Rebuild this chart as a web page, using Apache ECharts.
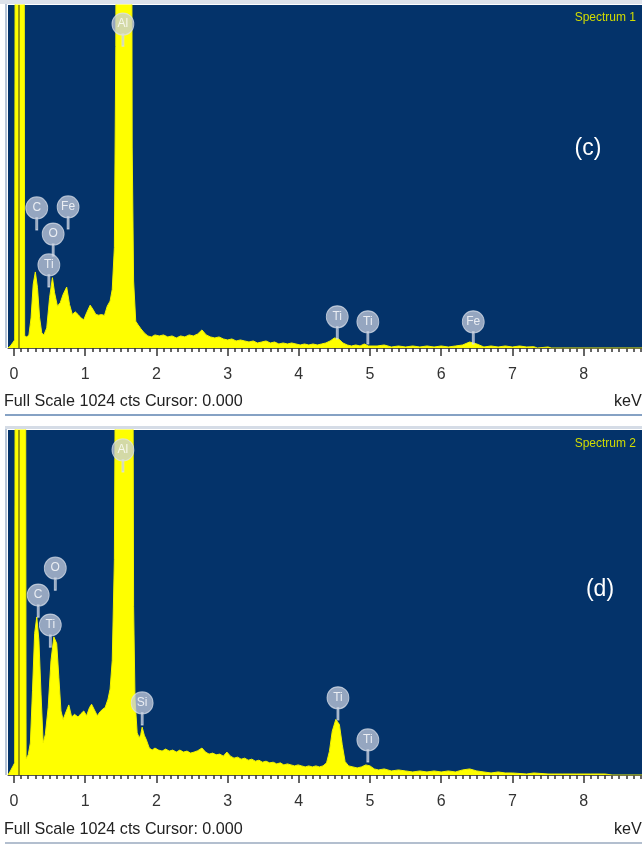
<!DOCTYPE html>
<html lang="en">
<head>
<meta charset="utf-8">
<title>EDS spectra</title>
<script src="https://cdn.jsdelivr.net/npm/echarts@6/dist/echarts.min.js"></script>
<style>
  html, body { margin: 0; padding: 0; background: #ffffff; }
  #main { width: 642px; height: 847px; }
</style>
</head>
<body>
<div id="main"></div>
<script>
  // spectrum data: [energy keV, counts] (full scale 1024 cts)
  var spectrum1 = [
    [-0.084, 0], [-0.05, 6], [-0.02, 15], [0.01, 24], [0.025, 3000], [0.135, 3000],
    [0.15, 36], [0.18, 33], [0.21, 39], [0.24, 90], [0.27, 190], [0.30, 227], [0.33, 180],
    [0.36, 90], [0.39, 45], [0.42, 39], [0.46, 60], [0.50, 150], [0.54, 210], [0.57, 165],
    [0.61, 125], [0.65, 135], [0.69, 160], [0.74, 182], [0.78, 130], [0.82, 100], [0.86, 108],
    [0.90, 100], [0.94, 90], [0.98, 84], [1.02, 105], [1.07, 128], [1.11, 115], [1.15, 100],
    [1.19, 98], [1.23, 100], [1.27, 97], [1.31, 125], [1.35, 140], [1.38, 175], [1.41, 300],
    [1.43, 900], [1.46, 4000], [1.55, 6000], [1.64, 3000], [1.66, 600], [1.68, 200], [1.71, 80],
    [1.74, 70], [1.78, 58], [1.83, 45], [1.88, 36], [1.93, 33], [1.98, 39], [2.04, 36],
    [2.10, 39], [2.16, 33], [2.22, 36], [2.28, 30], [2.34, 36], [2.40, 33], [2.46, 39],
    [2.52, 36], [2.58, 42], [2.64, 54], [2.70, 39], [2.76, 33], [2.82, 30], [2.88, 33],
    [2.94, 27], [3.00, 24], [3.06, 27], [3.12, 21], [3.18, 24], [3.24, 21], [3.30, 18],
    [3.36, 21], [3.42, 15], [3.48, 18], [3.54, 21], [3.60, 15], [3.66, 18], [3.72, 12],
    [3.78, 15], [3.84, 12], [3.90, 15], [3.96, 12], [4.02, 9], [4.08, 12], [4.14, 9],
    [4.20, 12], [4.26, 9], [4.32, 12], [4.38, 15], [4.44, 21], [4.50, 30], [4.56, 27],
    [4.62, 15], [4.68, 9], [4.74, 6], [4.80, 9], [4.86, 6], [4.92, 12], [4.98, 6],
    [5.1, 6], [5.2, 9], [5.3, 3], [5.4, 6], [5.5, 3], [5.6, 6], [5.7, 3], [5.8, 6], [5.9, 3],
    [6.0, 6], [6.1, 3], [6.2, 6], [6.3, 9], [6.4, 18], [6.5, 12], [6.6, 3], [6.7, 6], [6.8, 3],
    [6.9, 6], [7.0, 3], [7.1, 6], [7.2, 3], [7.3, 4], [7.35, 0], [7.5, 3], [7.55, 0], [8.83, 0]
  ];

  var spectrum2 = [
    [-0.084, 0], [-0.05, 12], [-0.02, 24], [0.01, 36], [0.025, 3000], [0.155, 3000],
    [0.17, 48], [0.20, 60], [0.23, 95], [0.26, 250], [0.29, 420], [0.32, 469], [0.35, 400],
    [0.38, 240], [0.41, 95], [0.44, 120], [0.48, 200], [0.52, 340], [0.56, 410], [0.60, 390],
    [0.63, 290], [0.66, 190], [0.69, 165], [0.73, 187], [0.77, 208], [0.81, 172], [0.85, 180],
    [0.90, 172], [0.94, 182], [0.98, 190], [1.02, 176], [1.06, 200], [1.09, 210], [1.13, 193],
    [1.17, 176], [1.21, 188], [1.25, 196], [1.28, 200], [1.32, 225], [1.35, 255], [1.38, 340],
    [1.41, 640], [1.43, 1500], [1.46, 5000], [1.55, 7000], [1.65, 3000], [1.68, 500], [1.70, 225],
    [1.73, 125], [1.76, 110], [1.78, 120], [1.80, 142], [1.83, 118], [1.86, 104], [1.90, 80],
    [1.94, 74], [1.98, 80], [2.03, 74], [2.08, 71], [2.13, 77], [2.18, 71], [2.23, 74],
    [2.28, 68], [2.33, 74], [2.38, 68], [2.43, 71], [2.48, 65], [2.53, 68], [2.58, 72],
    [2.64, 80], [2.69, 68], [2.74, 62], [2.79, 65], [2.84, 60], [2.89, 62], [2.94, 56],
    [2.99, 68], [3.04, 56], [3.09, 50], [3.14, 53], [3.19, 47], [3.24, 50], [3.29, 44],
    [3.34, 47], [3.39, 41], [3.44, 44], [3.49, 38], [3.54, 41], [3.59, 36], [3.64, 38],
    [3.69, 33], [3.74, 36], [3.79, 30], [3.84, 33], [3.89, 30], [3.94, 27], [3.99, 30],
    [4.04, 27], [4.09, 24], [4.14, 27], [4.19, 24], [4.24, 27], [4.29, 24], [4.34, 27],
    [4.39, 36], [4.43, 70], [4.47, 130], [4.52, 165], [4.57, 150], [4.61, 90], [4.65, 40],
    [4.70, 27], [4.76, 24], [4.82, 21], [4.88, 24], [4.94, 30], [5.00, 27], [5.06, 18],
    [5.12, 15], [5.2, 18], [5.3, 12], [5.4, 15], [5.5, 12], [5.6, 9], [5.7, 12], [5.8, 9],
    [5.9, 12], [6.0, 9], [6.1, 12], [6.2, 9], [6.3, 15], [6.4, 18], [6.5, 12], [6.6, 9],
    [6.7, 6], [6.8, 9], [6.9, 6], [7.0, 6], [7.2, 3], [7.3, 6], [7.5, 3], [7.7, 3], [7.9, 3],
    [8.1, 3], [8.3, 3], [8.4, 0], [8.83, 0]
  ];

  // element markers: [energy keV, counts of badge centre, element]
  var peaks1 = [
    [1.53, 967, 'Al'], [0.32, 418, 'C'], [0.76, 421, 'Fe'], [0.55, 340, 'O'], [0.49, 248, 'Ti'],
    [4.54, 93, 'Ti'], [4.97, 78, 'Ti'], [6.45, 78, 'Fe']
  ];
  var peaks2 = [
    [1.53, 965, 'Al'], [0.58, 614, 'O'], [0.34, 534, 'C'], [0.51, 445, 'Ti'], [1.80, 214, 'Si'],
    [4.55, 229, 'Ti'], [4.97, 104, 'Ti']
  ];

  var majorTicks = [0, 1, 2, 3, 4, 5, 6, 7, 8];
  var minorTicks = [];
  for (var i = 0; i <= 88; i++) { if (i % 10) minorTicks.push(i / 10); }

  var KEV_MIN = -0.084, KEV_MAX = 8.82;
  var PLOT_BG = '#04336a';
  var badge = 'path://M11 0 A11 11 0 1 1 10.99 0 Z M10 21 L12 21 L12 33 L10 33 Z';

  function majorAxis(g) {
    return {
      type: 'value', gridIndex: g, position: 'bottom', min: KEV_MIN, max: KEV_MAX,
      splitLine: { show: false },
      axisLine: { show: true, lineStyle: { color: '#555', width: 1 } },
      axisTick: { show: true, customValues: majorTicks, length: 8, lineStyle: { color: '#333', width: 1.5 } },
      axisLabel: { customValues: majorTicks, margin: 19, fontSize: 16, color: '#333',
                   fontFamily: 'Liberation Sans, Arial, sans-serif' }
    };
  }
  function minorAxis(g) {
    return {
      type: 'value', gridIndex: g, position: 'bottom', min: KEV_MIN, max: KEV_MAX,
      splitLine: { show: false },
      axisLine: { show: false },
      axisTick: { show: true, customValues: minorTicks, length: 4, lineStyle: { color: '#333', width: 1.5 } },
      axisLabel: { show: false }
    };
  }
  function specSeries(data, ax) {
    return {
      type: 'line', xAxisIndex: ax, yAxisIndex: ax / 2, data: data, symbol: 'none',
      clip: true, silent: true, animation: false, z: 2,
      lineStyle: { color: '#f2f200', width: 1 },
      areaStyle: { color: '#ffff00', opacity: 1 },
      markLine: {
        silent: true, symbol: 'none', animation: false, label: { show: false },
        lineStyle: { color: '#7a7a10', width: 1.5, type: 'solid' },
        data: [{ xAxis: 0.075 }]
      }
    };
  }
  function badgeSeries(data, ax) {
    return {
      type: 'scatter', xAxisIndex: ax, yAxisIndex: ax / 2, silent: true, animation: false,
      z: 10, clip: false,
      data: data, symbol: badge, symbolSize: [22, 33], symbolOffset: [0, 5.5],
      itemStyle: { color: 'rgba(196,204,220,0.94)', borderColor: 'rgba(220,226,236,0.9)', borderWidth: 1 },
      label: {
        show: true, position: 'inside', offset: [0, -5.5],
        formatter: function (p) { return p.value[2]; },
        color: '#ffffff', fontSize: 12, fontFamily: 'Liberation Sans, Arial, sans-serif'
      }
    };
  }
  function txt(x, y, s, size, color, align, sx) {
    return {
      type: 'text', x: x, y: y, scaleX: sx || 1, silent: true,
      style: { text: s, fill: color, font: size + 'px "Liberation Sans", Arial, sans-serif',
               textAlign: align || 'left', textVerticalAlign: 'middle' }
    };
  }
  function bar(x, y, w, h, color) {
    return { type: 'rect', silent: true, shape: { x: x, y: y, width: w, height: h }, style: { fill: color } };
  }

  var chart = echarts.init(document.getElementById('main'));
  chart.setOption({
    animation: false,
    backgroundColor: '#ffffff',
    grid: [
      { left: 8, top: 5, width: 634, height: 343, show: true, backgroundColor: PLOT_BG, borderWidth: 0 },
      { left: 8, top: 430, width: 634, height: 345, show: true, backgroundColor: PLOT_BG, borderWidth: 0 }
    ],
    xAxis: [majorAxis(0), minorAxis(0), majorAxis(1), minorAxis(1)],
    yAxis: [
      { type: 'value', gridIndex: 0, min: 0, max: 1024, show: false },
      { type: 'value', gridIndex: 1, min: 0, max: 1024, show: false }
    ],
    series: [
      specSeries(spectrum1, 0),
      badgeSeries(peaks1, 0),
      specSeries(spectrum2, 2),
      badgeSeries(peaks2, 2)
    ],
    graphic: [
      bar(0, 0, 642, 4, '#dde2ea'),
      bar(5, 4, 2, 344, '#b8c6d8'),
      bar(5, 414, 637, 2, '#86a2c4'),
      bar(5, 426, 637, 3, '#d5dce6'),
      bar(5, 429, 2, 346, '#b8c6d8'),
      bar(5, 842, 637, 2, '#b3bfcf'),
      txt(636, 18, 'Spectrum 1', 12, '#d2dc00', 'right'),
      txt(636, 444, 'Spectrum 2', 12, '#d2dc00', 'right'),
      txt(588, 149, '(c)', 23, '#ffffff', 'center'),
      txt(600, 590, '(d)', 23, '#ffffff', 'center'),
      txt(4, 401, 'Full Scale 1024 cts Cursor: 0.000', 17, '#222222', 'left', 0.95),
      txt(614, 401, 'keV', 17, '#222222', 'left', 0.95),
      txt(4, 829, 'Full Scale 1024 cts Cursor: 0.000', 17, '#222222', 'left', 0.95),
      txt(614, 829, 'keV', 17, '#222222', 'left', 0.95)
    ]
  });
</script>
</body>
</html>
